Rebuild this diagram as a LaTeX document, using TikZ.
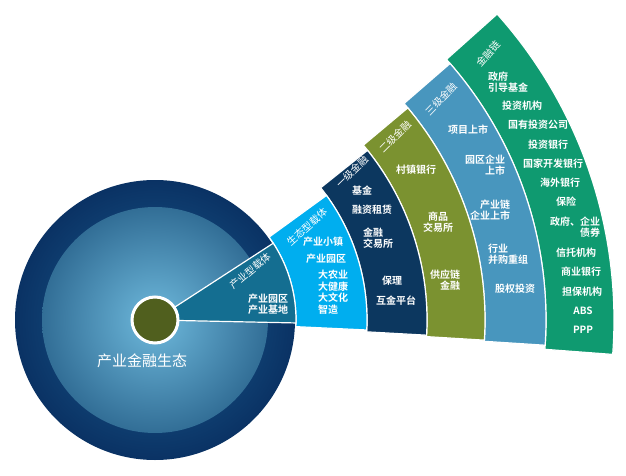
\documentclass[tikz,border=0pt]{standalone}
\usepackage{fontspec}
\newfontfamily\cjk{Noto Sans CJK SC}[BoldFont={Noto Sans CJK SC Bold}]
\definecolor{cgreen}{RGB}{15,154,112}
\definecolor{csteel}{RGB}{72,150,190}
\definecolor{colive}{RGB}{123,146,48}
\definecolor{cnavy}{RGB}{12,55,95}
\definecolor{clight}{RGB}{0,174,239}
\definecolor{cteal}{RGB}{20,110,145}
\definecolor{ccore}{RGB}{80,95,30}
\definecolor{cdark}{RGB}{10,50,100}
\definecolor{cin}{RGB}{110,185,220}
\definecolor{cinout}{RGB}{50,110,150}
\definecolor{cmid}{RGB}{30,100,150}
\begin{document}
\begin{tikzpicture}[x=1pt,y=1pt,
  t/.style={text=white,font=\cjk\bfseries\fontsize{10}{11.5}\selectfont,inner sep=0pt,align=center},
  lab/.style={text=white,font=\cjk\fontsize{10}{11}\selectfont,inner sep=0pt},
  ring/.style={draw=white,line width=1.2pt}]
\useasboundingbox (0,0) rectangle (626,475);
\coordinate (C) at (155,155);
% big circle
\shade[inner color=cmid,outer color=cdark] (C) circle (140);
\shade[inner color=cin,outer color=cinout] (C) circle (113);
% rings
\fill[cgreen,ring] (C) ++(-4.3:391) arc (-4.3:41.8:391) -- ++(41.8:68) arc (41.8:-4.3:459) -- cycle;
\fill[csteel,ring] (C) ++(-3.7:330) arc (-3.7:41:330) -- ++(41:61) arc (41:-3.7:391) -- cycle;
\fill[colive,ring] (C) ++(-3.5:272) arc (-3.5:40:272) -- ++(40:58) arc (40:-3.5:330) -- cycle;
\fill[cnavy,ring] (C) ++(-3.2:212) arc (-3.2:38.6:212) -- ++(38.6:60) arc (38.6:-3.2:272) -- cycle;
\fill[clight,ring] (C) ++(-2.7:141) arc (-2.7:36:141) -- ++(36:71) arc (36:-2.7:212) -- cycle;
\fill[cteal,ring] (C) ++(-1.2:20) arc (-1.2:33:20) -- ++(33:121) arc (33:-1.2:141) -- cycle;
% center
\fill[ccore,draw=white,line width=3pt] (C) circle (23);
\node[text=white,font=\cjk\fontsize{15}{16}\selectfont] (title) at (142,114) {产业金融生态};
% labels along top edges
\node[lab,rotate=40] (l1) at (250,204) {产业型载体};
\node[lab,rotate=42] (l2) at (307,248) {生态型载体};
\node[lab,rotate=44] (l3) at (352,303) {一级金融};
\node[lab,rotate=45] (l4) at (395,338) {二级金融};
\node[lab,rotate=46] (l5) at (441,376) {三级金融};
\node[lab,rotate=48] (l6) at (488,421) {金融链};
% teal
\node[t] (a1) at (268,171) {产业园区\\产业基地};
% light blue
\node[t] (b1) at (323,233) {产业小镇};
\node[t] (b2) at (326,216) {产业园区};
\node[t,align=left,anchor=west] (b3) at (318,183) {大农业\\大健康\\大文化\\智造};
% navy
\node[t] (c1) at (362,284) {基金};
\node[t] (c2) at (372,265) {融资租赁};
\node[t,align=left] (c3) at (378,237) {金融\\交易所};
\node[t] (c4) at (392,194) {保理};
\node[t] (c5) at (396,174) {互金平台};
% olive
\node[t] (d1) at (416,305) {村镇银行};
\node[t] (d2) at (438,253) {商品\\交易所};
\node[t,align=right] (d3) at (445,195) {供应链\\金融};
% steel
\node[t] (e1) at (468,345) {项目上市};
\node[t,align=right] (e2) at (485,310) {园区企业\\上市};
\node[t,align=right] (e3) at (490,265) {产业链\\企业上市};
\node[t,align=left] (e4) at (508,221) {行业\\并购重组};
\node[t] (e5) at (515,186) {股权投资};
% green
\node[t,align=left] (f1) at (508,393) {政府\\引导基金};
\node[t] (f2) at (522,369) {投资机构};
\node[t] (f3) at (538,350) {国有投资公司};
\node[t] (f4) at (548,330) {投资银行};
\node[t] (f5) at (553,311) {国家开发银行};
\node[t] (f6) at (560,292) {海外银行};
\node[t] (f7) at (566,273) {保险};
\node[t,align=right] (f8) at (575,248) {政府、企业\\债券};
\node[t] (f9) at (576,222) {信托机构};
\node[t] (f10) at (581,203) {商业银行};
\node[t] (f11) at (582,183) {担保机构};
\node[t] (f12) at (583,164) {ABS};
\node[t] (f13) at (583,145) {PPP};
\end{tikzpicture}
\end{document}
